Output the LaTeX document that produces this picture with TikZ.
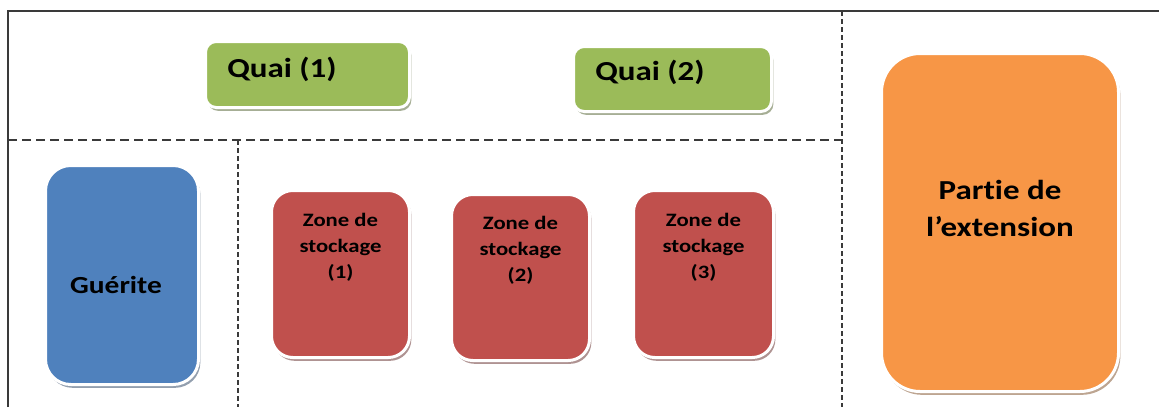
\documentclass[tikz,border=0pt]{standalone}
\usepackage{fontspec}
\setmainfont{Carlito}[FakeStretch=1.2,Ligatures=CommonOff]
\usetikzlibrary{positioning,shadows}
\definecolor{quaigreen}{HTML}{9BBB59}
\definecolor{gueriteblue}{HTML}{4F81BD}
\definecolor{zonered}{HTML}{C0504D}
\definecolor{extorange}{HTML}{F79646}
\definecolor{planline}{HTML}{3A3A3A}
\begin{document}
\begin{tikzpicture}[x=0.75pt,y=-0.75pt,
  room/.style={draw=white,line width=2.25pt,fill=#1,inner sep=0pt,
    drop shadow={shadow xshift=1.4pt,shadow yshift=-2.5pt,fill=#1!50!black,opacity=0.5}},
  wall/.style={planline,line width=1.1pt},
  hsplit/.style={planline,line width=1.6pt,dash pattern=on 6.75pt off 3.75pt},
  vsplit/.style={planline,line width=1.5pt,dash pattern=on 3.75pt off 2.25pt},
  bigtxt/.style={inner sep=0pt,font=\bfseries\fontsize{20.6pt}{27.75pt}\selectfont},
  zonetxt/.style={inner sep=0pt,align=center,font=\bfseries\fontsize{14.2pt}{19.5pt}\selectfont}]
 \path[use as bounding box] (0,0) rectangle (1159,407);
 \coordinate (tl) at (8,11);
 \coordinate (bl) at (8,407);
 \coordinate (tr) at (1159,11);
 \coordinate (mid) at (842,140);
 \draw[wall] (bl)--(tl)--(tr);
 \draw[hsplit] (8,140)--(mid);
 \draw[vsplit] (842,11)--(842,407);
 \draw[vsplit] (238,140)--(238,407);
 \node[room=quaigreen,rounded corners=8pt,minimum width=153pt,minimum height=49.5pt] (q1) at (307.5,74.5) {};
 \node[room=quaigreen,rounded corners=8pt,minimum width=148.5pt,minimum height=48.75pt] (q2) at (672.5,79) {};
 \node[room=gueriteblue,rounded corners=19pt,minimum width=114.75pt,minimum height=164.25pt] (g) at (122,275) {};
 \node[room=zonered,rounded corners=16pt,minimum width=103.5pt,minimum height=125.25pt] (z1) at (340.5,274) {};
 \node[room=zonered,rounded corners=16pt,minimum width=103.5pt,minimum height=124.5pt] (z2) at (520.5,277.5) {};
 \node[room=zonered,rounded corners=16pt,minimum width=105pt,minimum height=125.25pt] (z3) at (703.5,274) {};
 \node[room=extorange,rounded corners=29pt,minimum width=177.75pt,minimum height=253.5pt] (p) at (1000,222.5) {};
 \node[bigtxt,anchor=base west] (q1t) at (227,77) {Quai (1)};
 \node[bigtxt,anchor=base west] (q2t) at (595,80) {Quai (2)};
 \node[bigtxt,anchor=base,font=\bfseries\fontsize{18.4pt}{20pt}\selectfont] (gt) at (116,293) {Guérite};
 \node[zonetxt] (z1t) at (340.5,247) {Zone de\\stockage\\(1)};
 \node[zonetxt] (z2t) at (520.5,250.5) {Zone de\\stockage\\(2)};
 \node[zonetxt] (z3t) at (703.5,247) {Zone de\\stockage\\(3)};
 \node[bigtxt,align=center] (pt) at (1000,208) {Partie de\\l’extension};
\end{tikzpicture}
\end{document}
